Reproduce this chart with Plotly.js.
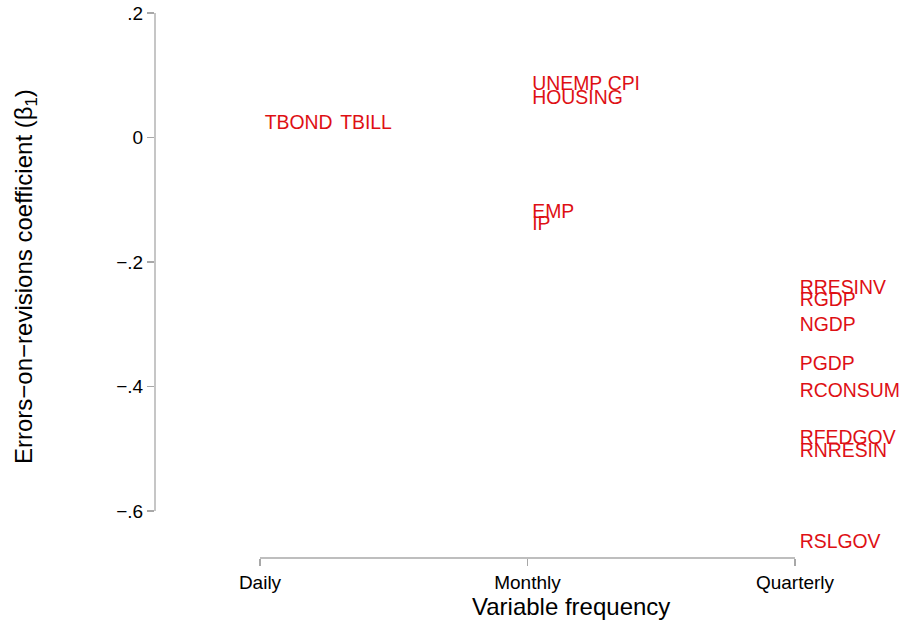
<!DOCTYPE html>
<html>
<head>
<meta charset="utf-8">
<script src="https://cdn.plot.ly/plotly-3.0.1.min.js"></script>
<style>html,body{margin:0;padding:0;background:#fff;}</style>
</head>
<body>
<div id="chart" style="width:901px;height:627px;"></div>
<script>
// ---- data ----
var frequencies = ['Daily', 'Monthly', 'Quarterly'];
var variables = ['TBOND', 'TBILL', 'UNEMP', 'CPI', 'HOUSING', 'EMP', 'IP',
                 'RRESINV', 'RGDP', 'NGDP', 'PGDP', 'RCONSUM', 'RFEDGOV', 'RNRESIN', 'RSLGOV'];
var varFrequency = ['Daily', 'Daily', 'Monthly', 'Monthly', 'Monthly', 'Monthly', 'Monthly',
                    'Quarterly', 'Quarterly', 'Quarterly', 'Quarterly', 'Quarterly', 'Quarterly', 'Quarterly', 'Quarterly'];
var beta1 = [0.022, 0.022, 0.084, 0.084, 0.062, -0.121, -0.141,
             -0.243, -0.263, -0.303, -0.366, -0.409, -0.485, -0.505, -0.651];
var yTickVals = [-0.6, -0.4, -0.2, 0, 0.2];
var yTickText = ['\u2212.6', '\u2212.4', '\u2212.2', '0', '.2'];

// ---- layout helpers ----
var labelPad = {TBILL: 14, CPI: 14};   // leading spaces so overlapping labels stay readable
var labels = variables.map(function (v) {
  return '\u00a0'.repeat(labelPad[v] || 0) + v;
});

var FONT = 'Liberation Sans, Arial, Helvetica, sans-serif';
var AXIS_COL = '#a8a8a8';
var RED = 'rgb(222,16,20)';

var yRange = [-0.6755, 0.2];
var xRange = [-0.3925, 2.3963];
function px(v) { return (v - xRange[0]) / (xRange[1] - xRange[0]); }
function py(v) { return (v - yRange[0]) / (yRange[1] - yRange[0]); }

var trace = {
  type: 'scatter',
  mode: 'markers+text',
  x: varFrequency,
  y: beta1,
  text: labels,
  textposition: 'middle right',
  textfont: {family: FONT, size: 19.4, color: RED},
  marker: {size: 6, opacity: 0, color: RED},
  cliponaxis: false,
  hoverinfo: 'skip',
  showlegend: false
};

var layout = {
  width: 901,
  height: 627,
  margin: {l: 155, r: 0, t: 13, b: 69, pad: 0},
  paper_bgcolor: '#ffffff',
  plot_bgcolor: '#ffffff',
  font: {family: FONT, color: '#000'},
  showlegend: false,
  xaxis: {
    type: 'category',
    categoryorder: 'array',
    categoryarray: frequencies,
    range: xRange,
    showgrid: false,
    zeroline: false,
    showline: false,
    ticks: 'outside',
    ticklen: 7,
    tickwidth: 1.3,
    tickcolor: AXIS_COL,
    tickfont: {family: FONT, size: 19, color: '#000'},
    fixedrange: true
  },
  yaxis: {
    range: yRange,
    tickvals: yTickVals,
    ticktext: yTickText,
    showgrid: false,
    zeroline: false,
    showline: false,
    ticks: 'outside',
    ticklen: 7,
    tickwidth: 1.3,
    tickcolor: AXIS_COL,
    tickfont: {family: FONT, size: 19, color: '#000'},
    fixedrange: true
  },
  shapes: [
    {type: 'line', xref: 'paper', yref: 'paper', x0: 0, x1: 0,
     y0: py(yTickVals[0]), y1: py(yTickVals[yTickVals.length - 1]),
     line: {color: AXIS_COL, width: 1.3}},
    {type: 'line', xref: 'paper', yref: 'paper', y0: 0, y1: 0,
     x0: px(0), x1: px(frequencies.length - 1),
     line: {color: AXIS_COL, width: 1.3}}
  ],
  annotations: [
    {text: 'Variable frequency', xref: 'paper', yref: 'paper',
     x: 0.5576, y: -0.0899, xanchor: 'center', yanchor: 'middle',
     showarrow: false, font: {family: FONT, size: 24, color: '#000'}},
    {text: 'Errors\u2212on\u2212revisions coefficient (\u03b2<sub>1</sub>)', xref: 'paper', yref: 'paper',
     x: -0.1743, y: 0.5174, xanchor: 'center', yanchor: 'middle', textangle: -90,
     showarrow: false, font: {family: FONT, size: 24, color: '#000'}}
  ]
};

Plotly.newPlot('chart', [trace], layout, {displayModeBar: false, staticPlot: true});
</script>
</body>
</html>
